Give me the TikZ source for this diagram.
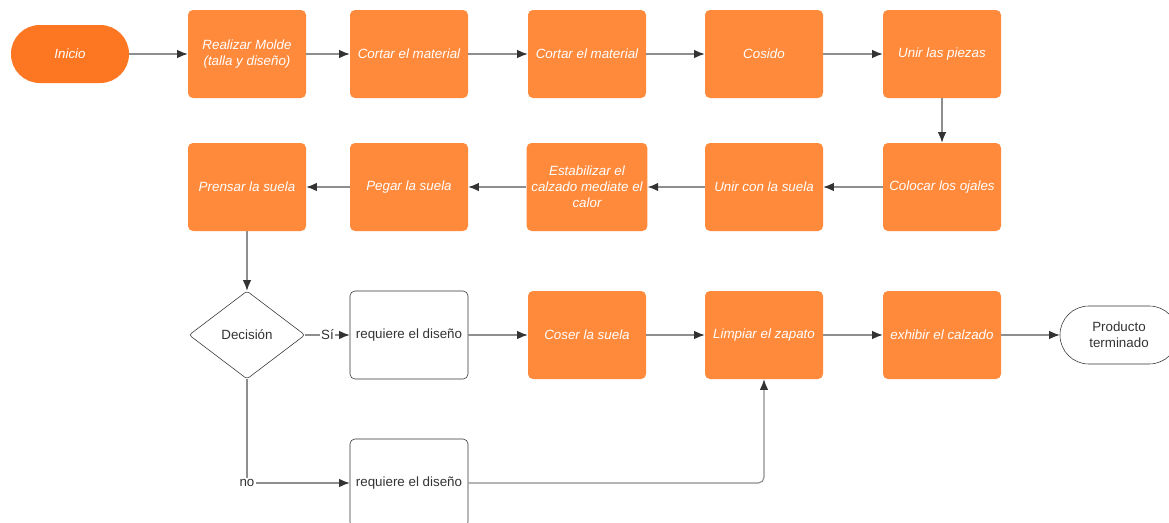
\documentclass[tikz,border=0pt]{standalone}
\usepackage{fontspec}
\setmainfont{Liberation Sans}
\usetikzlibrary{shapes.geometric,arrows.meta}

\definecolor{naranja}{HTML}{FF8A3C}
\definecolor{naranjaosc}{HTML}{FD7621}
\definecolor{linea}{HTML}{8E8E8E}
\definecolor{texto}{HTML}{333333}

\tikzset{
    paso/.style={fill=naranja, rounded corners=3.5pt, minimum width=2.95cm,
        minimum height=2.2cm, align=center, text=white, font=\fontsize{9.5}{11.5}\selectfont\itshape},
    caja/.style={draw=texto, fill=white, rounded corners=3.5pt, minimum width=2.95cm,
        minimum height=2.2cm, align=center, text=texto, font=\fontsize{9.5}{11.5}\selectfont},
    terminal/.style={rounded corners=0.72cm, minimum width=2.95cm, minimum height=1.45cm,
        align=center, font=\fontsize{9.5}{11.5}\selectfont},
    decision/.style={diamond, draw=texto, fill=white, rounded corners=2pt, inner sep=0pt,
        minimum width=2.9cm, minimum height=2.2cm, text=texto, font=\fontsize{9.5}{11.5}\selectfont},
    flujo/.style={draw=linea, line width=0.8pt,
        -{Latex[length=7.5pt,width=6pt,color=texto]}},
    etiqueta/.style={fill=white, inner sep=1pt, text=texto, font=\fontsize{9.5}{11.5}\selectfont}
}

\begin{document}
\begin{tikzpicture}
    \clip (0,0) rectangle (29.225,-13.075);
    % fila 1
    \node[terminal, fill=naranjaosc, text=white, font=\fontsize{9.5}{11.5}\selectfont\itshape] (inicio) at (1.75,-1.35) {Inicio};
    \node[paso] (molde) at (6.175,-1.35) {Realizar Molde\\(talla y diseño)};
    \node[paso] (cortar1) at (10.225,-1.35) {Cortar el material};
    \node[paso] (cortar2) at (14.675,-1.35) {Cortar el material};
    \node[paso] (cosido) at (19.1,-1.35) {Cosido};
    \node[paso] (unir) at (23.55,-1.35) {Unir las piezas};
    % fila 2
    \node[paso] (ojales) at (23.55,-4.675) {Colocar los ojales};
    \node[paso] (unirsuela) at (19.1,-4.675) {Unir con la suela};
    \node[paso] (estabilizar) at (14.675,-4.675) {Estabilizar el\\calzado mediate el\\calor};
    \node[paso] (pegar) at (10.225,-4.675) {Pegar la suela};
    \node[paso] (prensar) at (6.175,-4.675) {Prensar la suela};
    % fila 3
    \node[decision] (decision) at (6.175,-8.375) {Decisión};
    \node[caja] (requiere1) at (10.225,-8.375) {requiere el diseño};
    \node[paso] (coser) at (14.675,-8.375) {Coser la suela};
    \node[paso] (limpiar) at (19.1,-8.375) {Limpiar el zapato};
    \node[paso] (exhibir) at (23.55,-8.375) {exhibir el calzado};
    \node[terminal, draw=texto, text=texto] (producto) at (27.975,-8.375) {Producto\\terminado};
    % fila 4
    \node[caja] (requiere2) at (10.225,-12.075) {requiere el diseño};

    \draw[flujo] (inicio) -- (molde);
    \draw[flujo] (molde) -- (cortar1);
    \draw[flujo] (cortar1) -- (cortar2);
    \draw[flujo] (cortar2) -- (cosido);
    \draw[flujo] (cosido) -- (unir);
    \draw[flujo] (unir) -- (ojales);
    \draw[flujo] (ojales) -- (unirsuela);
    \draw[flujo] (unirsuela) -- (estabilizar);
    \draw[flujo] (estabilizar) -- (pegar);
    \draw[flujo] (pegar) -- (prensar);
    \draw[flujo] (prensar) -- (decision);
    \draw[flujo] (decision) -- (requiere1) node[etiqueta, midway] {Sí};
    \draw[flujo] (decision.south) |- (requiere2.west) node[etiqueta, pos=0.5] {no};
    \draw[flujo] (requiere1) -- (coser);
    \draw[flujo] (coser) -- (limpiar);
    \draw[flujo] (limpiar) -- (exhibir);
    \draw[flujo] (exhibir) -- (producto);
    \draw[flujo, rounded corners=4pt] (requiere2.east) -| (limpiar.south);
\end{tikzpicture}
\end{document}
